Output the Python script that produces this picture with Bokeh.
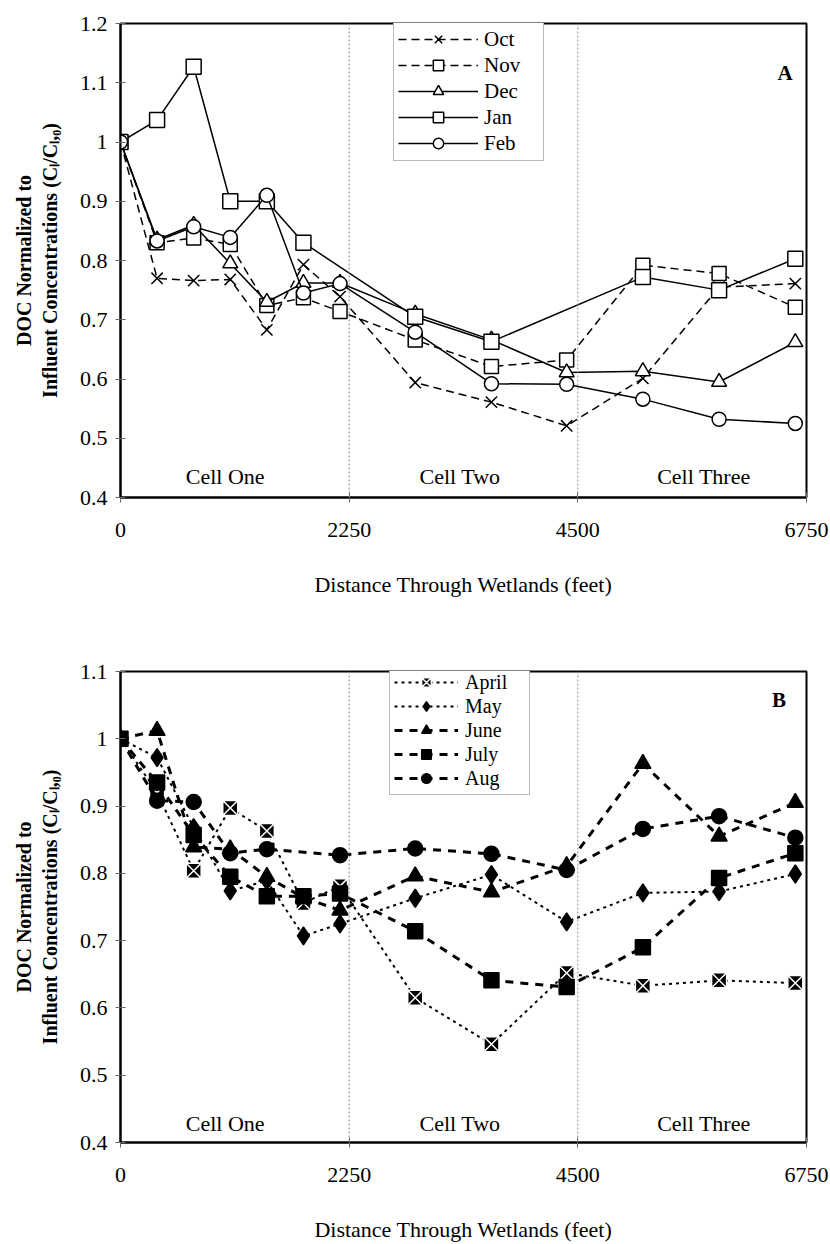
from bokeh.plotting import figure
from bokeh.layouts import column
from bokeh.models import (ColumnDataSource, FixedTicker, CustomJSTickFormatter,
                          Span, Label, Legend, LegendItem)
from bokeh.embed import file_html
from bokeh.resources import INLINE

FONT = "Liberation Serif"

# Sampling stations along the wetland flow path (feet)
distance_ft = [0, 360, 720, 1080, 1440, 1800, 2160, 2900, 3650, 4390, 5140, 5890, 6640]

x_ticks = [0, 2250, 4500, 6750]
cell_edges = [2250, 4500]
cell_names = ["Cell One", "Cell Two", "Cell Three"]
cell_label_x = [1030, 3340, 5740]

# Panel A: normalized DOC, October - February (None = not sampled)
winter_months = ["Oct", "Nov", "Dec", "Jan", "Feb"]
doc_oct = [1.0, 0.770, 0.766, 0.768, 0.683, 0.793, 0.739, 0.594, 0.561, 0.521, 0.601, 0.755, 0.761]
doc_nov = [1.0, 0.830, 0.838, 0.827, 0.724, 0.737, 0.714, 0.666, 0.621, 0.632, 0.792, 0.778, 0.721]
doc_dec = [1.0, 0.835, 0.860, 0.795, 0.730, 0.762, 0.762, 0.710, 0.666, 0.611, 0.613, 0.595, 0.662]
doc_jan = [1.0, 1.037, 1.127, 0.900, 0.900, 0.830, None, 0.705, 0.663, None, 0.772, 0.750, 0.803]
doc_feb = [1.0, 0.833, 0.857, 0.839, 0.910, 0.745, 0.761, 0.679, 0.592, 0.591, 0.566, 0.532, 0.525]
y_ticks_a = [0.4, 0.5, 0.6, 0.7, 0.8, 0.9, 1.0, 1.1, 1.2]

# Panel B: normalized DOC, April - August
summer_months = ["April", "May", "June", "July", "Aug"]
doc_apr = [1.0, 0.920, 0.804, 0.897, 0.863, 0.756, 0.781, 0.615, 0.546, 0.652, 0.633, 0.641, 0.637]
doc_may = [1.0, 0.972, 0.868, 0.774, 0.789, 0.707, 0.725, 0.763, 0.798, 0.728, 0.771, 0.773, 0.799]
doc_jun = [1.0, 1.012, 0.839, 0.836, 0.795, 0.764, 0.745, 0.796, 0.772, 0.811, 0.963, 0.855, 0.905]
doc_jul = [1.0, 0.935, 0.857, 0.795, 0.766, 0.766, 0.770, 0.714, 0.641, 0.631, 0.690, 0.793, 0.830]
doc_aug = [1.0, 0.908, 0.906, 0.830, 0.836, None, 0.827, 0.837, 0.829, 0.805, 0.866, 0.885, 0.853]
y_ticks_b = [0.4, 0.5, 0.6, 0.7, 0.8, 0.9, 1.0, 1.1]

Y_LABEL = "DOC Normalized to\nInfluent Concentrations (C\u2097/C\u2097,\u2080)"
X_LABEL = "Distance Through Wetlands (feet)"

# marker / line styling per series
style_a = [
    dict(marker="x", fill="white", mline="black", size=16, dash="8 5", lw=1.5),
    dict(marker="square", fill="white", mline="black", size=14, dash="8 5", lw=1.5),
    dict(marker="triangle", fill="white", mline="black", size=15, dash="solid", lw=1.5),
    dict(marker="square", fill="white", mline="black", size=15, dash="solid", lw=1.5),
    dict(marker="circle", fill="white", mline="black", size=14, dash="solid", lw=1.5),
]
style_b = [
    dict(marker="square_x", fill="black", mline="white", size=15, dash="3 4", lw=2),
    dict(marker="diamond", fill="black", mline="black", size=18, dash="3 4", lw=2),
    dict(marker="triangle", fill="black", mline="black", size=16, dash="8 7", lw=3),
    dict(marker="square", fill="black", mline="black", size=15, dash="8 7", lw=3),
    dict(marker="circle", fill="black", mline="black", size=15, dash="8 7", lw=3),
]


def make_panel(height, top, bottom, left, right, y_max, y_ticks, names, series, styles,
               legend_loc, glyph_w, standoff, label_w, row_h, legend_font, cell_y,
               letter, letter_xy):
    p = figure(width=830, height=height, x_range=(0, 6750), y_range=(0.4, y_max),
               output_backend="svg", toolbar_location=None,
               min_border_top=top, min_border_bottom=bottom,
               min_border_left=left, min_border_right=right)
    p.background_fill_color = "white"
    p.border_fill_color = "white"
    p.outline_line_color = "black"
    p.outline_line_width = 2
    p.xgrid.visible = False
    p.ygrid.visible = False

    p.xaxis.ticker = FixedTicker(ticks=x_ticks)
    p.yaxis.ticker = FixedTicker(ticks=y_ticks)
    p.yaxis.formatter = CustomJSTickFormatter(code="return String(Math.round(tick * 10) / 10);")
    for ax in (p.xaxis, p.yaxis):
        ax.axis_line_color = "black"
        ax.axis_line_width = 2
        ax.major_tick_line_color = "#666666"
        ax.major_tick_line_width = 1
        ax.major_tick_in = 5
        ax.major_tick_out = 5
        ax.minor_tick_line_color = None
        ax.major_label_text_font = FONT
        ax.major_label_text_font_size = "22px"
        ax.major_label_text_color = "black"
        ax.axis_label_text_font = FONT
        ax.axis_label_text_color = "black"
    p.xaxis.major_label_standoff = 20
    p.yaxis.major_label_standoff = 8
    p.xaxis.axis_label = X_LABEL
    p.xaxis.axis_label_text_font_size = "22px"
    p.xaxis.axis_label_text_font_style = "normal"
    p.xaxis.axis_label_standoff = 32
    p.yaxis.axis_label = Y_LABEL
    p.yaxis.axis_label_text_font_size = "20px"
    p.yaxis.axis_label_text_font_style = "bold"
    p.yaxis.axis_label_standoff = 16

    for edge in cell_edges:
        p.add_layout(Span(location=edge, dimension="height", line_color="#8a8a8a",
                          line_width=1, line_dash="2 2"))

    for name, cx in zip(cell_names, cell_label_x):
        p.add_layout(Label(x=cx, y=cell_y, text=name, text_align="center",
                           text_baseline="middle", text_font=FONT,
                           text_font_size="22px", text_color="black"))

    p.add_layout(Label(x=letter_xy[0], y=letter_xy[1], text=letter, text_align="center",
                       text_baseline="middle", text_font=FONT, text_font_style="bold",
                       text_font_size="21px", text_color="black"))

    items = []
    for name, vals, st in zip(names, series, styles):
        xs = [d for d, v in zip(distance_ft, vals) if v is not None]
        ys = [v for v in vals if v is not None]
        src = ColumnDataSource(dict(x=xs, y=ys))
        lr = p.line("x", "y", source=src, line_color="black", line_width=st["lw"],
                    line_dash=st["dash"])
        mr = p.scatter("x", "y", source=src, marker=st["marker"], size=st["size"],
                       fill_color=st["fill"], line_color=st["mline"], line_width=1.5)
        items.append(LegendItem(label=name, renderers=[lr, mr]))

    legend = Legend(items=items, location=legend_loc, orientation="vertical",
                    background_fill_color="white", background_fill_alpha=1,
                    border_line_color="#777777", border_line_width=1,
                    label_text_font=FONT, label_text_font_size=legend_font,
                    label_text_color="black",
                    glyph_width=glyph_w, glyph_height=row_h, label_height=row_h,
                    label_width=label_w, label_standoff=standoff,
                    spacing=0, padding=4, margin=0)
    p.add_layout(legend)
    return p


panel_a = make_panel(602, 23, 105, 120, 23, 1.2, y_ticks_a, winter_months,
                     [doc_oct, doc_nov, doc_dec, doc_jan, doc_feb], style_a,
                     (273, 336), 80, 6, 55, 26, "21px", 0.436, "A", (6540, 1.117))
panel_b = make_panel(642, 69, 98, 113, 24, 1.1, y_ticks_b, summer_months,
                     [doc_apr, doc_may, doc_jun, doc_jul, doc_aug], style_b,
                     (269, 347), 64, 7, 60, 24, "20px", 0.428, "B", (6480, 1.057))

layout = column(panel_a, panel_b, spacing=0)

with open("out.html", "w") as f:
    f.write(file_html(layout, INLINE))
